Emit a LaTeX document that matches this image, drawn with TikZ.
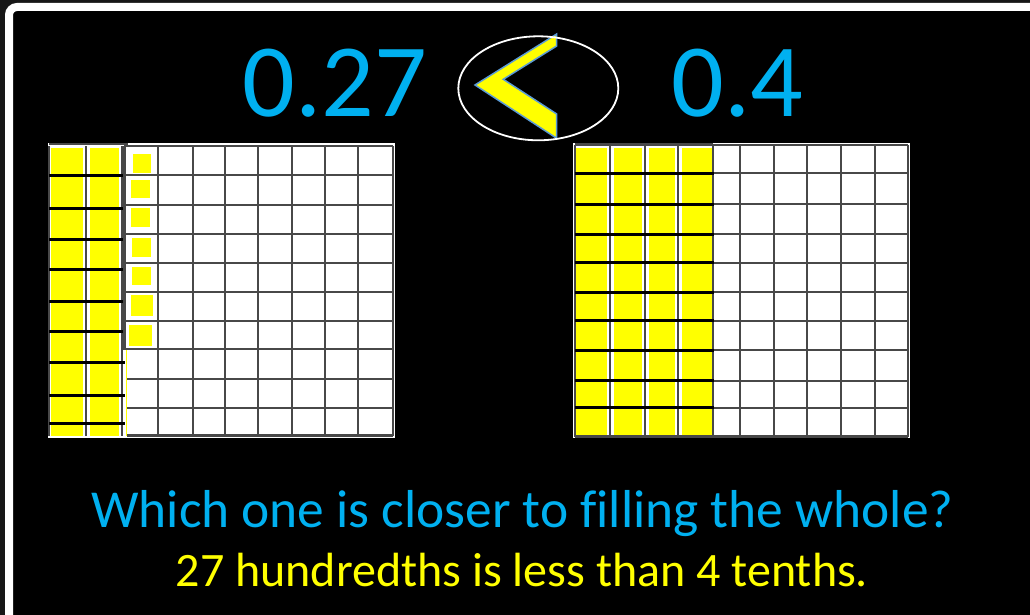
\documentclass[tikz,border=0pt]{standalone}
\usepackage{fontspec}
\setmainfont{Carlito}[Ligatures={NoCommon}]
\definecolor{pblue}{HTML}{00B0F0}
\definecolor{pyel}{HTML}{FFFF00}
\definecolor{gline}{HTML}{484848}
\definecolor{outl}{HTML}{5B9BD5}
\definecolor{edge}{HTML}{161616}
\begin{document}
\begin{tikzpicture}[x=1pt,y=-1pt,
  gridline/.style={draw=gline,line width=2.3pt},
  halo/.style={draw=white,line width=7pt},
  bar/.style={draw=black,line width=3pt},
  num/.style={text=pblue,font=\fontsize{104}{110}\selectfont,inner sep=0pt,anchor=base},
  qtext/.style={text=pblue,font=\fontsize{53.4}{58}\selectfont,inner sep=0pt,anchor=base},
  atext/.style={text=pyel,font=\fontsize{48}{52}\selectfont,inner sep=0pt,anchor=base}]
\useasboundingbox (0,0) rectangle (1030,615);
\fill[edge] (0,0) rectangle (1030,615);
\draw[white,line width=8pt,rounded corners=8pt,fill=black] (9,7) rectangle (1050,625);

% ---------- left hundred grid ----------
\fill[white] (48,143) rectangle (395,438);
\fill[pyel] (51,148) rectangle (127,436);
\foreach \x in {86,122}{\draw[halo] (\x,146) -- (\x,436);}
\foreach \x in {49,86,122}{\draw[gridline] (\x,146) -- (\x,436);}
\draw[gridline] (49,144) -- (128,144);
\foreach \y in {175,208.3,239,269.3,301,331.3,362.3,395.7,423.3}{\draw[bar] (49,\y) -- (125,\y);}
% third column of single hundredths
\fill[white] (124,145) rectangle (158,350);
\foreach \xa/\ya/\xb/\yb in {132.7/154/151/172.7,131/180/150/198.3,131/208.3/150/227.3,131.7/238.3/150.7/256.7,131.7/267.3/150.7/285,130.7/295/153.3/316,129/325/151.7/346}{
  \fill[pyel] (\xa,\ya) rectangle (\xb,\yb);}
\draw[gridline] (124.5,146) -- (124.5,350);
\foreach \y in {146,175,205,234,262.7,291.7,320.7,349}{\draw[gridline] (124,\y) -- (393,\y);}
\foreach \y in {379.3,407.7,435.5}{\draw[gridline] (127,\y) -- (393,\y);}
\foreach \x in {158,192.7,225,258.3,291.7,325,358.3,392.7}{\draw[gridline] (\x,146) -- (\x,436);}

% ---------- right hundred grid ----------
\fill[white] (573,143) rectangle (910,438);
\fill[pyel] (576,148) rectangle (712,435);
\foreach \x in {610,645,678}{\draw[halo] (\x,146) -- (\x,436);}
\foreach \x in {575,610,645,678,713,740,774,807,841,875,908}{\draw[gridline] (\x,145) -- (\x,437);}
\foreach \y in {145,173.3,204,234,262.7,292.3,320.7,350,380.7,407.7,436.5}{\draw[gridline] (713,\y) -- (908,\y);}
\foreach \y in {173.3,204,234,262.7,292.3,320.7,350,380.7,407.7}{\draw[bar] (575,\y) -- (714,\y);}
\draw[gridline] (575,144.5) -- (713,144.5);
\draw[gridline] (575,436.5) -- (713,436.5);

% ---------- numbers and comparison sign ----------
\node[num] (left) at (335,117) {0.27};
\node[num] (right) at (737.5,117) {0.4};
\filldraw[fill=pyel,draw=outl,line width=1.5pt,line join=miter]
  (556.7,34) -- (556.7,46) -- (503.3,79.3) -- (556.7,114) -- (556.7,138.3) -- (475,85) -- cycle;
\draw[white,line width=1.8pt] (538.3,88.3) ellipse [x radius=80, y radius=52];

% ---------- texts ----------
\node[qtext] (question) at (522.5,527) {Which one is closer to filling the whole?};
\node[atext] (answer) at (522,586) {27 hundredths is less than 4 tenths.};
\end{tikzpicture}
\end{document}
